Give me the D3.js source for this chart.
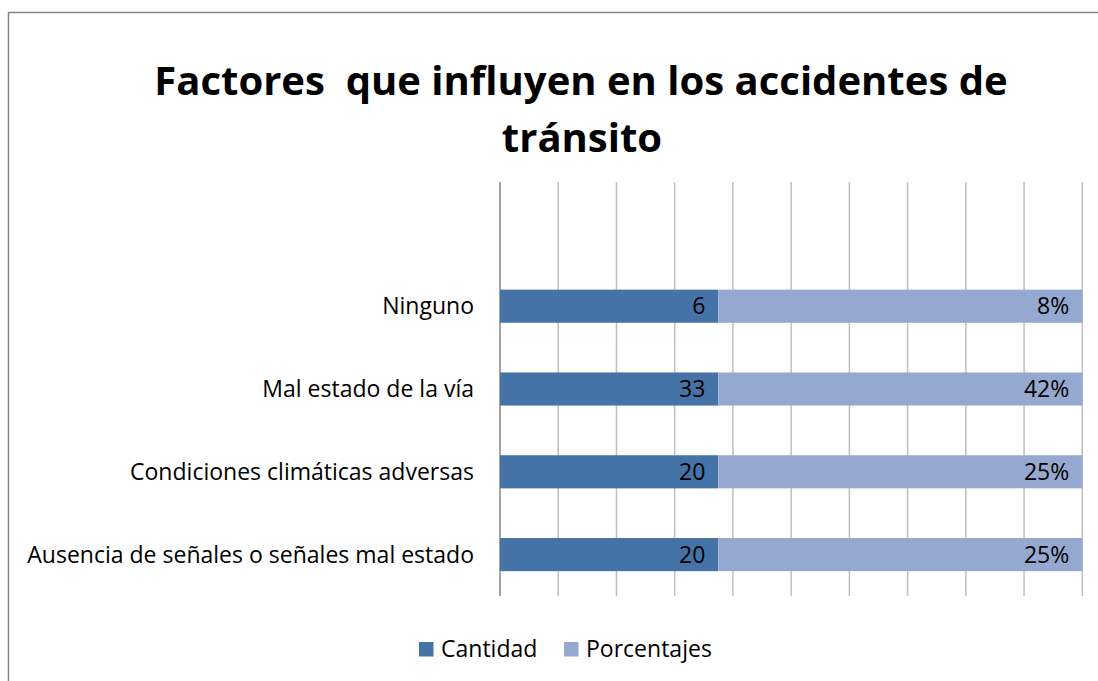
<!DOCTYPE html>
<html>
<head>
<meta charset="utf-8">
<script src="https://cdn.jsdelivr.net/npm/d3@7"></script>
<style>
  body { margin: 0; background: #fff; }
  text { font-family: "Open Sans", Lato, sans-serif; fill: #000; font-variant-ligatures: none; }
</style>
</head>
<body>
<div id="chart"></div>
<script>
// Categories, bottom to top as in the picture (the top slot is empty)
const categories = [
  "Ausencia de señales o señales mal estado",
  "Condiciones climáticas adversas",
  "Mal estado de la vía",
  "Ninguno",
  ""
];

// Series values (shown as data labels)
const cantidad = [20, 20, 33, 6, null];
const porcentajes = [25, 25, 42, 8, null];

// Share of the bar each series takes (100% stacked)
const cantidadShare = [37.5, 37.5, 37.5, 37.5, 0];
const porcentajesShare = [62.5, 62.5, 62.5, 62.5, 0];

const seriesNames = ["Cantidad", "Porcentajes"];
const seriesColors = ["#4573A8", "#95A9D0"];

var width = 1098;
var height = 681;
var plot = { left: 500, right: 1082.3, top: 182, bottom: 596 };

var svg = d3
  .select("#chart")
  .append("svg")
  .attr("width", width)
  .attr("height", height);

// font size that makes a string span a given width
function fitSize(str, weight, target) {
  var t = svg.append("text").style("font-size", "20px").style("font-weight", weight).text(str);
  var w = t.node().getComputedTextLength();
  t.remove();
  return (20 * target) / w;
}
var labelSize = fitSize(categories[0], "normal", 447);
var titleSize = fitSize("Factores  que influyen en los accidentes de", "bold", 843);

// Chart frame
svg
  .append("rect")
  .attr("x", 8.5)
  .attr("y", 12.5)
  .attr("width", 1200)
  .attr("height", 1000)
  .attr("fill", "#fff")
  .attr("stroke", "#868686")
  .attr("stroke-width", 1.5);

// Title
var title = svg
  .append("text")
  .attr("text-anchor", "middle")
  .style("font-size", titleSize + "px")
  .style("font-weight", "bold")
  .style("white-space", "pre");
title.append("tspan").attr("x", 581).attr("y", 95).text("Factores  que influyen en los accidentes de");
title.append("tspan").attr("x", 582).attr("y", 152).text("tránsito");

// Scales
var x = d3.scaleLinear().domain([0, 100]).range([plot.left, plot.right]);
var y = d3
  .scaleBand()
  .domain(categories.map((d, i) => i))
  .range([plot.bottom, plot.top])
  .paddingInner(0.6)
  .paddingOuter(0.3);

// Gridlines
svg
  .append("g")
  .selectAll("line")
  .data(x.ticks(10).slice(1))
  .enter()
  .append("line")
  .attr("x1", (d) => x(d))
  .attr("x2", (d) => x(d))
  .attr("y1", plot.top)
  .attr("y2", plot.bottom)
  .attr("stroke", "#bfbfbf")
  .attr("stroke-width", 1.5);

// Vertical axis line
svg
  .append("line")
  .attr("x1", plot.left)
  .attr("x2", plot.left)
  .attr("y1", plot.top)
  .attr("y2", plot.bottom)
  .attr("stroke", "#868686")
  .attr("stroke-width", 1.5);

// Stacked data
var rows = categories.map((c, i) => ({
  i: i,
  Cantidad: cantidadShare[i],
  Porcentajes: porcentajesShare[i]
}));
var stacked = d3.stack().keys(seriesNames)(rows);
var labelsBySeries = [cantidad, porcentajes.map((v) => (v == null ? null : v + "%"))];

stacked.forEach(function (layer, k) {
  var g = svg.append("g");
  g.selectAll("rect")
    .data(layer.filter((d) => d[1] > d[0]))
    .enter()
    .append("rect")
    .attr("x", (d) => x(d[0]))
    .attr("y", (d) => y(d.data.i))
    .attr("width", (d) => x(d[1]) - x(d[0]))
    .attr("height", y.bandwidth())
    .attr("fill", seriesColors[k]);

  // Data labels, inside end
  g.selectAll("text")
    .data(layer.filter((d) => d[1] > d[0]))
    .enter()
    .append("text")
    .attr("x", (d) => x(d[1]) - 13)
    .attr("y", (d) => y(d.data.i) + y.bandwidth() / 2)
    .attr("dy", "0.35em")
    .attr("text-anchor", "end")
    .style("font-size", labelSize + "px")
    .text((d) => labelsBySeries[k][d.data.i]);
});

// Category labels
svg
  .append("g")
  .selectAll("text")
  .data(categories)
  .enter()
  .append("text")
  .attr("x", plot.left - 26)
  .attr("y", (d, i) => y(i) + y.bandwidth() / 2)
  .attr("dy", "0.35em")
  .attr("text-anchor", "end")
  .style("font-size", labelSize + "px")
  .text((d) => d);

// Legend
var legendX = [419, 564];
var legend = svg
  .selectAll("legend")
  .data(seriesNames)
  .enter()
  .append("g")
  .attr("transform", (d, i) => "translate(" + legendX[i] + ",642)");

legend
  .append("rect")
  .attr("width", 14.5)
  .attr("height", 14.5)
  .attr("fill", (d, i) => seriesColors[i]);

legend
  .append("text")
  .attr("x", 22)
  .attr("y", 7)
  .attr("dy", "0.35em")
  .style("font-size", labelSize + "px")
  .text((d) => d);
</script>
</body>
</html>
